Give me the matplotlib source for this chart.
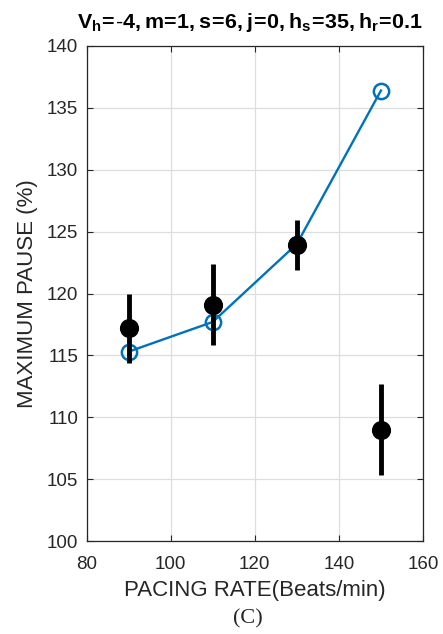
import matplotlib
matplotlib.use("Agg")
import matplotlib.pyplot as plt

# Pacing rates (beats/min)
rates = [90, 110, 130, 150]
# Model prediction of maximum pause (%)
model_pause = [115.3, 117.7, 124.0, 136.4]
# Measured maximum pause (%) with error half-widths
measured_pause = [117.2, 119.1, 123.9, 109.0]
measured_err = [2.8, 3.3, 2.0, 3.7]

xticks = [80, 100, 120, 140, 160]
yticks = [100, 105, 110, 115, 120, 125, 130, 135, 140]

plt.rcParams['font.family'] = ['Liberation Sans', 'DejaVu Sans']
plt.rcParams['mathtext.fontset'] = 'custom'
plt.rcParams['mathtext.rm'] = 'Liberation Sans'
plt.rcParams['mathtext.bf'] = 'Liberation Sans:bold'

fig = plt.figure(figsize=(4.43, 6.34), dpi=100)
ax = fig.add_axes([86.5 / 443, 1 - 541 / 634, (423 - 86.5) / 443, (541 - 46) / 634])

blue = '#0072BD'
ax.plot(rates, model_pause, color=blue, lw=1.7, marker='o', ms=11,
        mfc='none', mec=blue, mew=1.8, zorder=3)
ax.errorbar(rates, measured_pause, yerr=measured_err, fmt='o', color='black',
            ms=12.8, elinewidth=3.5, capsize=0, zorder=4)

ax.set_xlim(80, 160)
ax.set_ylim(100, 140)
ax.set_xticks(xticks)
ax.set_yticks(yticks)
ax.grid(True, color='#dedede', lw=0.9)
ax.set_axisbelow(True)
ax.tick_params(direction='in', top=True, right=True, length=4, width=0.8,
               labelsize=13.5, colors='#262626')
ax.tick_params(axis='x', pad=11)
ax.tick_params(axis='y', pad=6)
for s in ax.spines.values():
    s.set_color('#262626')
    s.set_linewidth(0.9)

ax.set_xlabel('PACING RATE(Beats/min)', fontsize=16, color='#262626', labelpad=5)
ax.set_ylabel('MAXIMUM PAUSE (%)', fontsize=16, color='#262626', labelpad=6)
ax.set_title(r'$\mathbf{V_h\!=\!\text{-}4,m\!=\!1,s\!=\!6,j\!=\!0,h_s\!=\!35,h_r\!=\!0.1}$',
             fontsize=15.4, pad=13, x=0.485)

fig.text(248 / 443, 1 - 619 / 634, '(C)', ha='center', va='center',
         fontsize=16, family='Liberation Serif', color='#262626')

fig.savefig('out.png', dpi=100)
